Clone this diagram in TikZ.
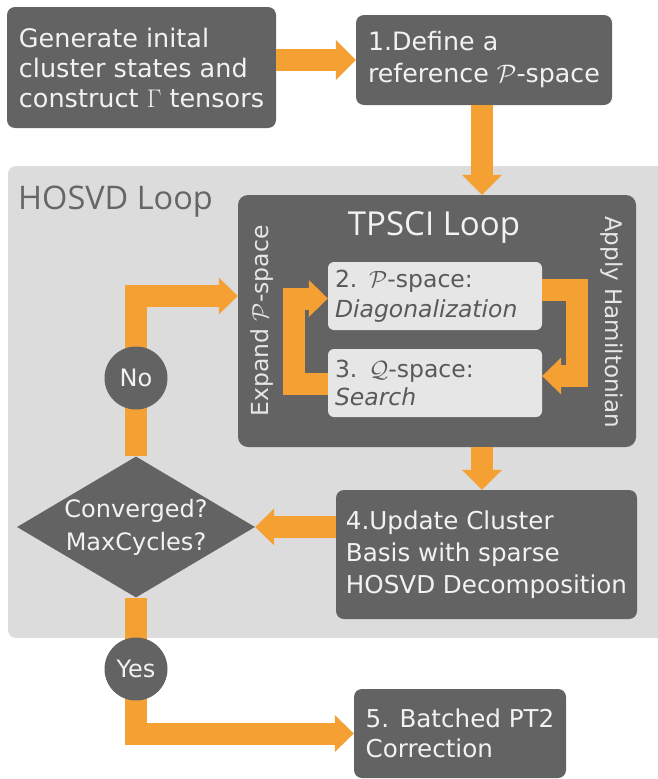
\RequirePackage{fix-cm}
\documentclass[tikz,border=0pt]{standalone}
\usepackage{fontspec}
\setmainfont{DejaVu Sans}
\newfontfamily\titlefont{Open Sans}
\usetikzlibrary{arrows.meta,shapes.geometric}
\definecolor{boxgray}{HTML}{636363}
\definecolor{txtwhite}{HTML}{F2F2F2}
\definecolor{orng}{HTML}{F5A033}
\definecolor{regiongray}{HTML}{DCDCDC}
\definecolor{lightfill}{HTML}{E6E6E6}
\definecolor{darktxt}{HTML}{595959}
\definecolor{labeltxt}{HTML}{666666}
\begin{document}
\begin{tikzpicture}[x=1pt,y=-1pt,
  darkbox/.style={fill=boxgray, rounded corners=8pt, text=txtwhite, inner sep=0pt, align=left},
  lightbox/.style={fill=lightfill, rounded corners=6pt, text=darktxt, inner xsep=7pt, inner ysep=0pt,
     text width=200pt, align=left, minimum width=214pt, minimum height=68pt},
  flow/.style={draw=orng, line width=22pt, -{Triangle[width=40pt,length=20pt,line width=0pt]}},
  smallflow/.style={draw=orng, line width=22pt, -{Triangle[width=37pt,length=19pt,line width=0pt]}},
  answer/.style={circle, fill=boxgray, text=txtwhite, minimum size=63pt, inner sep=0pt, font=\fontsize{24}{30}\selectfont},
]
\useasboundingbox (0,0) rectangle (657,779);

% HOSVD region
\fill[regiongray, rounded corners=8pt] (8,166) rectangle (680,638);
\node[anchor=west, text=labeltxt, font=\titlefont\fontsize{32.5}{36}\selectfont, inner sep=0pt] (hosvdlabel) at (18,202) {HOSVD Loop};

% top boxes
\node[darkbox, minimum width=269pt, minimum height=121pt, font=\fontsize{25.5}{30}\selectfont] (gen) at (141.5,67.5)
  {Generate inital\\cluster states and\\construct $\Gamma$ tensors};
\node[darkbox, minimum width=256pt, minimum height=90pt, font=\fontsize{25.3}{32}\selectfont] (defB) at (484,60)
  {1.Define a\\reference $\mathcal{P}$-space};

% TPSCI box
\node[darkbox, rounded corners=10pt, minimum width=398pt, minimum height=252pt] (tpsci) at (437,321) {};
\node[text=txtwhite, font=\titlefont\fontsize{33}{36}\selectfont, inner sep=0pt] (tpscilabel) at (434,228) {TPSCI Loop};
\node[lightbox, font=\fontsize{23.5}{30}\selectfont] (p2) at (435,296) {2. $\mathcal{P}$-space:\\\textit{Diagonalization}};
\node[lightbox, font=\fontsize{23.5}{28}\selectfont] (q3) at (435,383) {3. $\mathcal{Q}$-space:\\\textit{Search}};
\node[rotate=90, text=lightfill, font=\fontsize{23.5}{26}\selectfont, inner sep=0pt] (expand) at (262,321) {Expand $\mathcal{P}$-space};
\node[rotate=-90, text=lightfill, font=\fontsize{23}{26}\selectfont, inner sep=0pt] (apply) at (612,322) {Apply Hamiltonian};

% box 4 and 5
\node[darkbox, minimum width=301pt, minimum height=129pt, font=\fontsize{24.6}{32}\selectfont] (upd) at (486.5,554.5)
  {4.Update Cluster\\Basis with sparse\\HOSVD Decomposition};
\node[darkbox, minimum width=212pt, minimum height=89pt, font=\fontsize{24.6}{30}\selectfont] (pt2) at (460,733.5)
  {5. Batched PT2\\Correction};

% decision
\node[diamond, fill=boxgray, minimum width=238pt, minimum height=141pt, inner sep=0pt,
  label={[text=txtwhite, align=center, font=\fontsize{24}{33}\selectfont]center:Converged?\\MaxCycles?}] (dec) at (136,527) {};

\coordinate (vx) at (482,0);

% connectors
\draw[flow] (defB.west -| gen.east) -- (defB.west);
\draw[flow] (vx |- defB.south) -- (vx |- tpsci.north);
\draw[flow] (vx |- tpsci.south) -- (vx |- upd.north);
\draw[smallflow] (upd.west |- dec.east) -- (dec.east);
\draw[smallflow] (dec.north) |- (tpsci.west |- p2.west);
\draw[smallflow] (dec.south) |- (pt2.west);
\draw[smallflow] ([yshift=6pt]p2.east) -- ++(35,0) |- ([yshift=7pt]q3.east);
\draw[smallflow] ([yshift=-1pt]q3.west) -- ++(-34,0) |- ([yshift=-2.5pt]p2.west);

% answers
\node[answer] (no) at (136,378) {No};
\node[answer] (yes) at (136,669) {Yes};
\end{tikzpicture}
\end{document}
